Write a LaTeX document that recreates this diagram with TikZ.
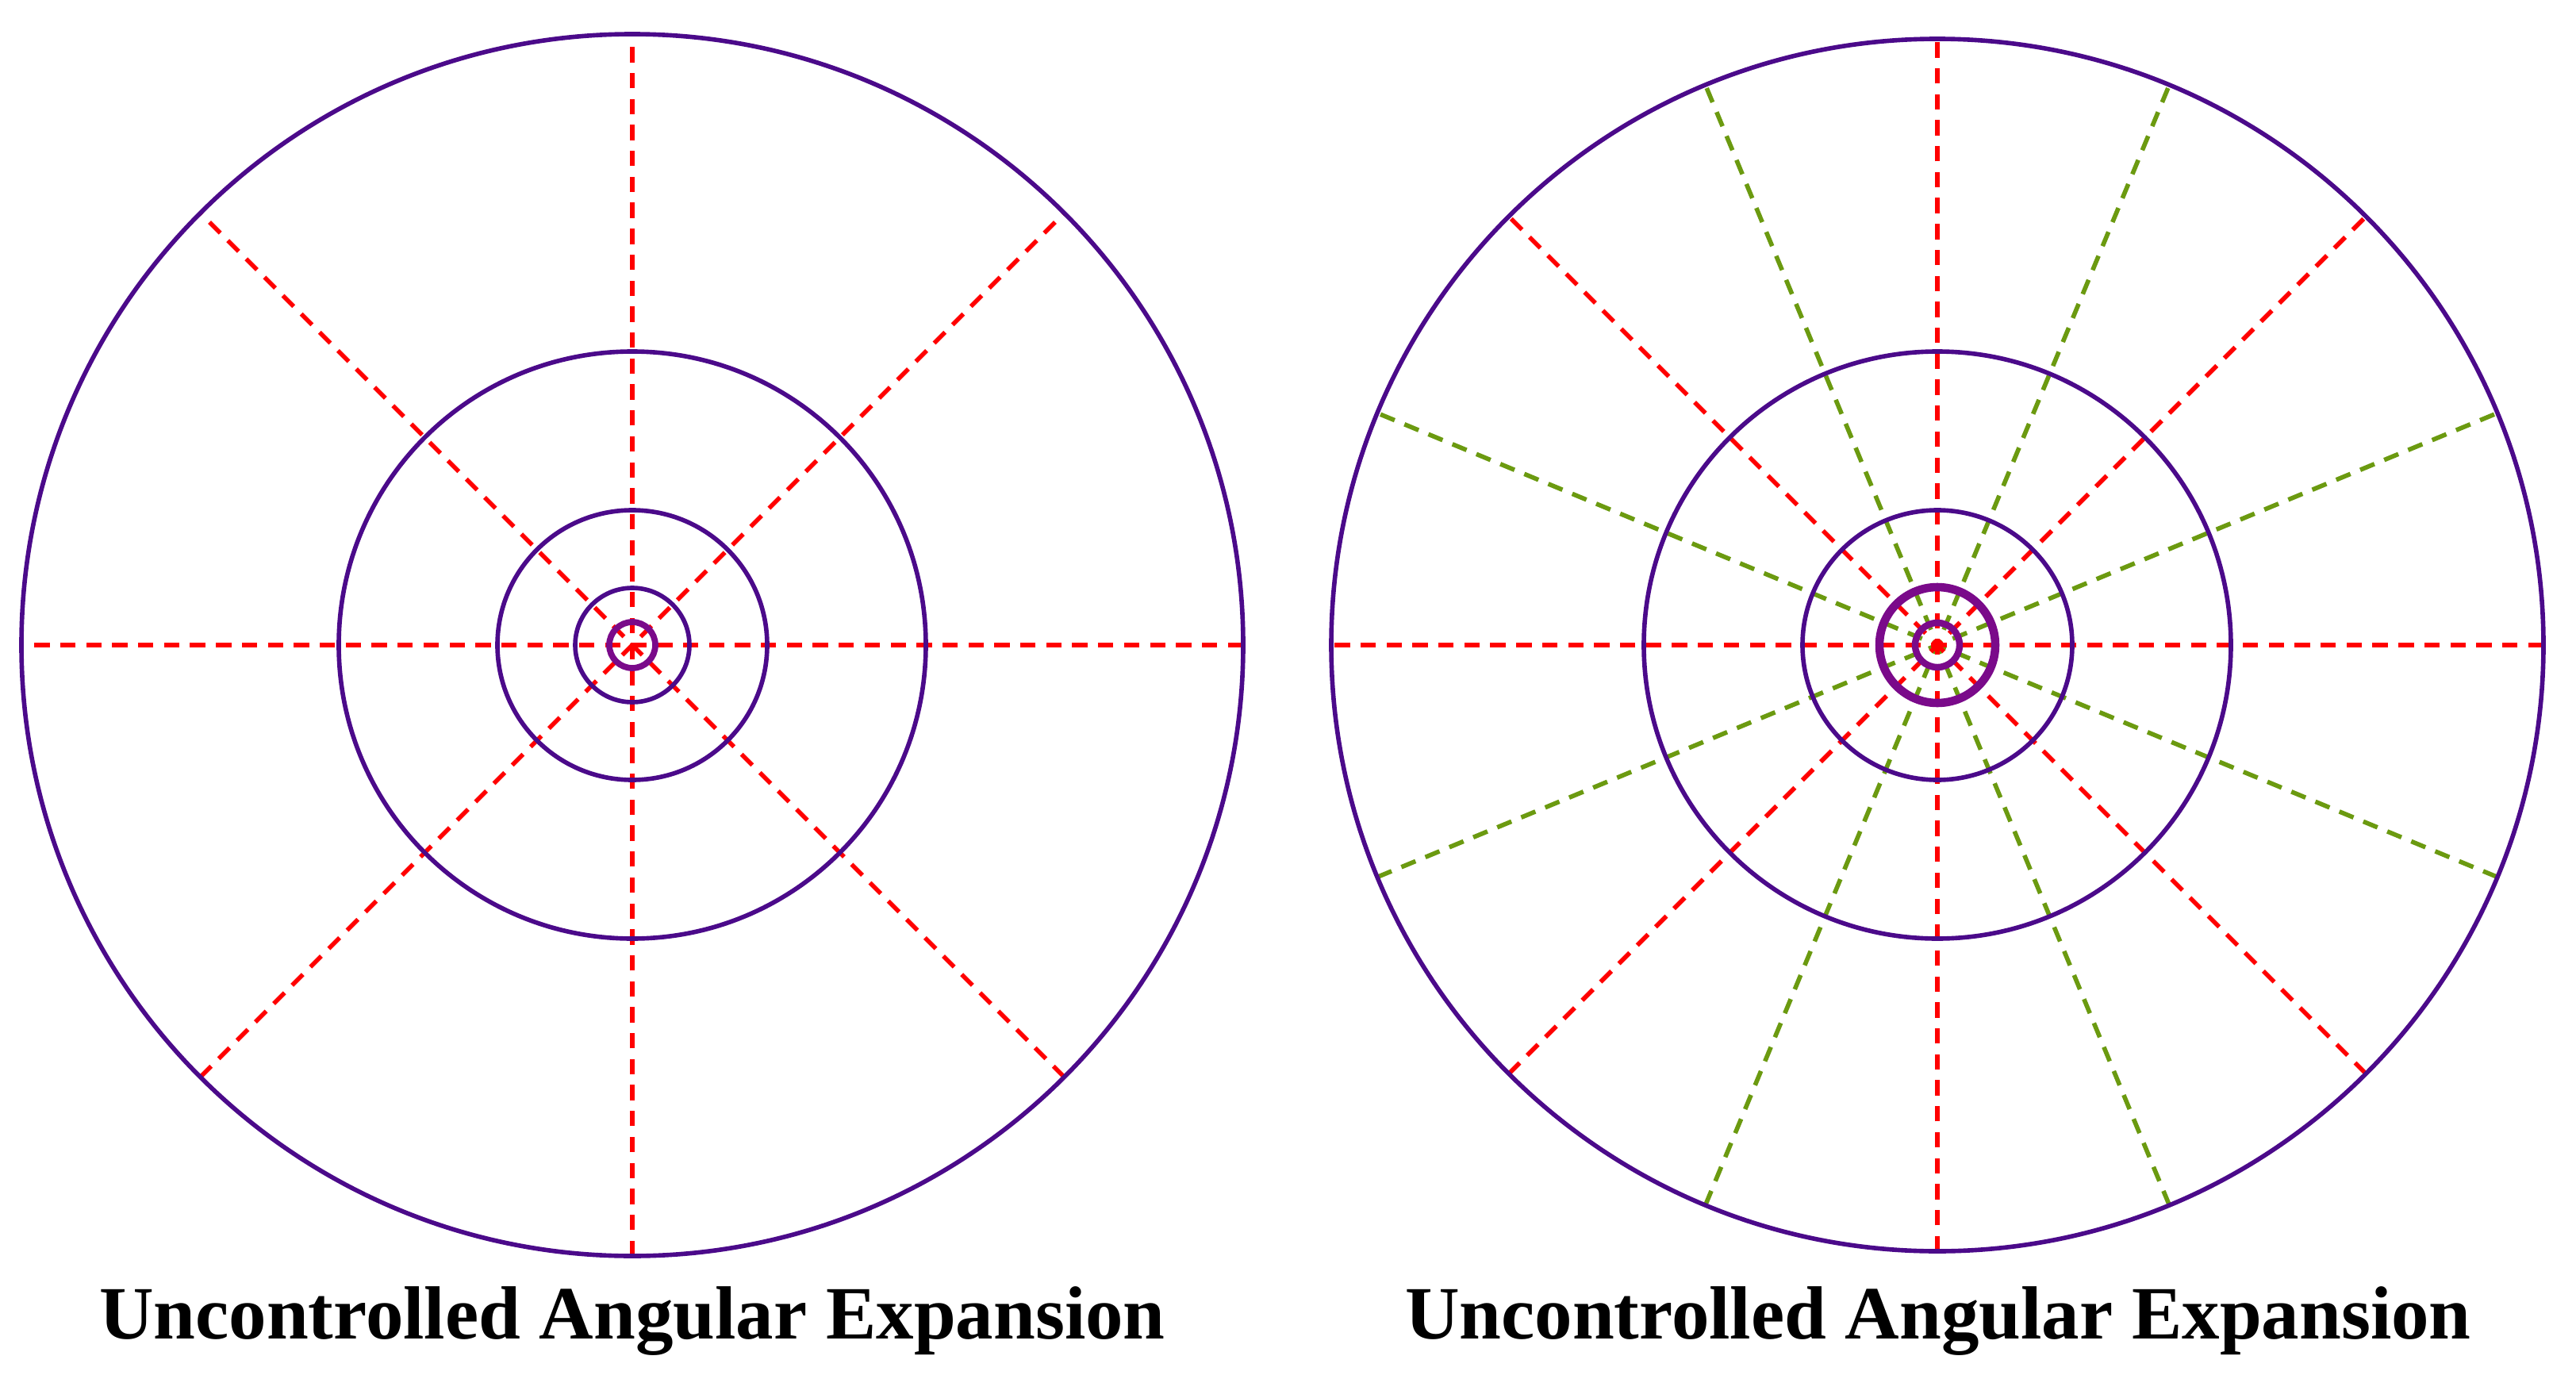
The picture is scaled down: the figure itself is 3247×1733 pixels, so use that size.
\documentclass[tikz,border=0pt]{standalone}
\usepackage{fontspec}
\setmainfont{Liberation Serif}
\usetikzlibrary{calc}
\begin{document}
\begin{tikzpicture}[x=0.01cm,y=-0.01cm,
  ring/.style={draw=ringc,line width=1.6pt},
  inring/.style={draw=inc,line width=2.2pt},
  redray/.style={draw=red,line width=1.6pt,dash pattern=on 5.5pt off 3.8pt},
  greenray/.style={draw=grn,line width=1.6pt,dash pattern=on 5.5pt off 3.8pt},
  lbl/.style={font=\bfseries\fontsize{27}{30}\selectfont}]
\definecolor{ringc}{HTML}{4B0A8A}
\definecolor{inc}{HTML}{7A0A8A}
\definecolor{grn}{HTML}{6B9A10}
\useasboundingbox (0,0) rectangle (3247,1733);
% left
\coordinate (L) at (797,813);
\foreach \a in {0,45,90,135} \draw[redray] ($(L)+(\a:770)$) -- ($(L)+(\a+180:770)$);
\draw[ring] (L) circle (770);
\draw[ring] (L) circle (370);
\draw[ring] (L) circle (170);
\draw[ring] (L) circle (72);
\draw[inring] (L) circle (29);
\node[lbl] (tl) at (797,1665) {Uncontrolled Angular Expansion};
% right
\coordinate (R) at (2442,813);
\foreach \a in {22.5,67.5,112.5,157.5} \draw[greenray] ($(R)+(\a:764)$) -- ($(R)+(\a+180:764)$);
\foreach \a in {0,45,90,135} \draw[redray] ($(R)+(\a:764)$) -- ($(R)+(\a+180:764)$);
\draw[ring] (R) circle (764);
\draw[ring] (R) circle (370);
\draw[ring] (R) circle (170);
\draw[inring,line width=3pt] (R) circle (73);
\draw[inring,line width=2.4pt] (R) circle (28);
\node[lbl] (tr) at (2443,1665) {Uncontrolled Angular Expansion};
\end{tikzpicture}
\end{document}
